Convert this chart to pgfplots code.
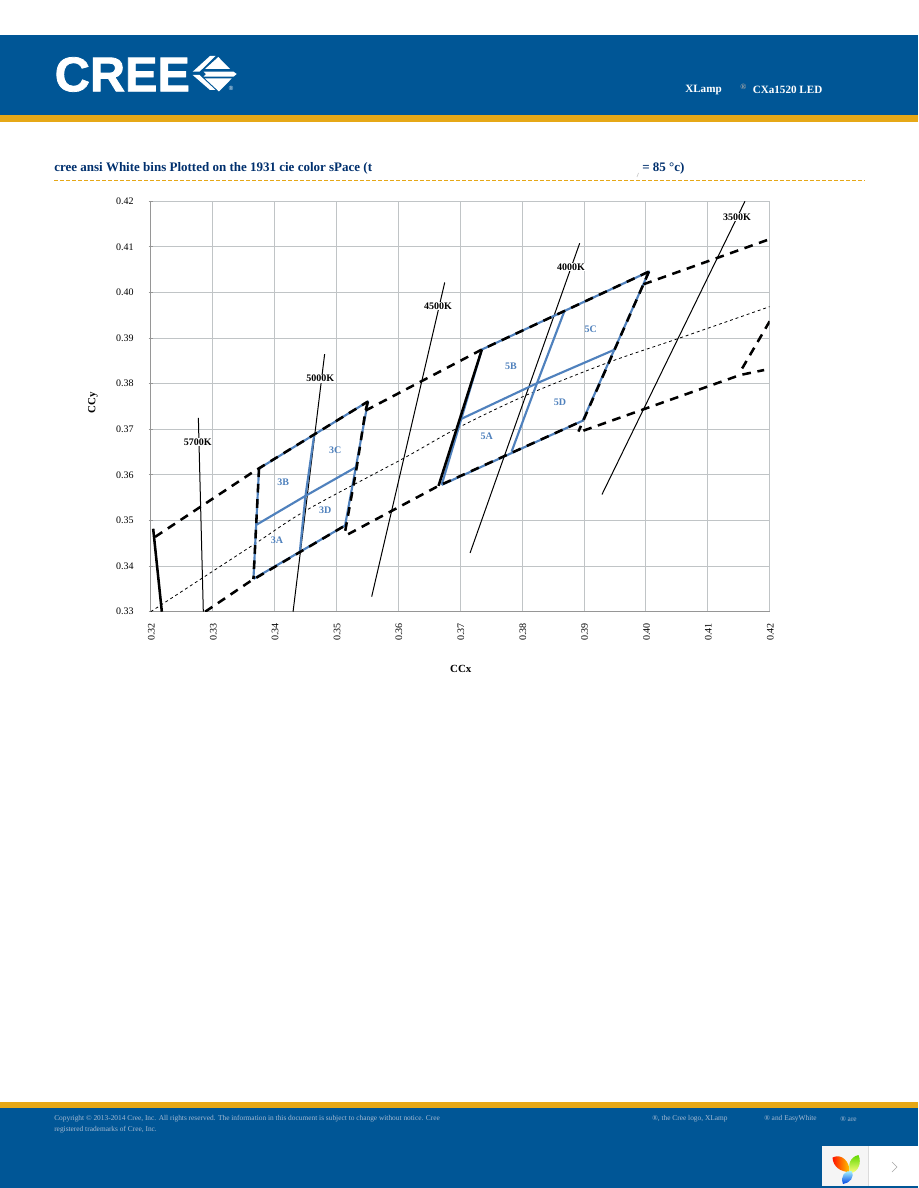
\documentclass[border=0pt]{standalone}
\usepackage{fontspec}
\setmainfont{Liberation Serif}
\newfontfamily\logofont[UprightFont=* Bold,FakeBold=1.6]{Liberation Sans}
\newfontfamily\logosmall{Liberation Sans}
\usepackage{pgfplots}
\pgfplotsset{compat=1.18}
\definecolor{creeblue}{HTML}{005696}
\definecolor{creegold}{HTML}{E6A817}
\definecolor{titleblue}{HTML}{00306E}
\definecolor{binblue}{HTML}{4F81BD}
\definecolor{gridgray}{HTML}{C0C4C6}
\definecolor{axisgray}{HTML}{969696}
\definecolor{foot}{HTML}{A6BAD2}
\newcommand{\fs}[1]{\fontsize{#1}{#1}\selectfont}
\begin{document}
\begin{tikzpicture}
\begin{scope}[x=0.75pt,y=-0.75pt]
\path[use as bounding box] (0,0) rectangle (918,1188);
\fill[white] (0,0) rectangle (918,1188);
% header
\fill[creeblue] (0,35) rectangle (918,115);
\fill[creegold] (0,115) rectangle (918,122);
\node[anchor=west,inner sep=0,white] at (54.5,74.5) {\logofont\fs{36.5}CREE};
\fill[white] (192.7,71.7) -- (210,56) -- (215.5,56) -- (199.5,71.7) -- cycle;
\fill[white] (218.3,57) -- (230,69) -- (205,69) -- cycle;
\fill[white] (203.5,71.7) -- (233.5,71.7) -- (236.7,74) -- (233.5,76.7) -- (203.5,76.7) -- (206,74) -- cycle;
\fill[white] (192.7,75) -- (199.5,75) -- (215.5,90) -- (210,90) -- cycle;
\fill[white] (205,78.5) -- (231.7,78.5) -- (219,91.5) -- cycle;
\node[white,inner sep=0] at (231,88.5) {\logosmall\fs{4.5}®};
\node[anchor=west,inner sep=0,white] at (685,90) {\bfseries\fs{8.35}XLamp};
\node[anchor=west,inner sep=0,gray!70] at (740,87) {\bfseries\fs{6}®};
\node[anchor=west,inner sep=0,white] at (752.5,90) {\bfseries\fs{8.35}CXa1520 LED};
% title
\node[anchor=west,inner sep=0,titleblue] at (54,168) {\bfseries\fs{9.75}cree ansi White bins Plotted on the 1931 cie color sPace (t};
\node[anchor=west,inner sep=0,titleblue] at (642,168) {\bfseries\fs{9.75}= 85 °c)};
\draw[gray!40,line width=0.5pt] (637,177) -- (638.5,173);
\draw[creegold,line width=0.75pt,dash pattern=on 3pt off 1.5pt] (54,180.5) -- (864.5,180.5);
% footer
\fill[creegold] (0,1102) rectangle (918,1108);
\fill[creeblue] (0,1108) rectangle (918,1188);
\node[anchor=west,inner sep=0,foot] at (54,1118.7) {\fs{5.54}Copyright © 2013-2014 Cree, Inc. All rights reserved. The information in this document is subject to change without notice. Cree};
\node[anchor=west,inner sep=0,foot] at (54,1130) {\fs{5.54}registered trademarks of Cree, Inc.};
\node[anchor=west,inner sep=0,foot] at (652,1118.7) {\fs{5.54}®, the Cree logo, XLamp};
\node[anchor=west,inner sep=0,foot] at (764,1118.7) {\fs{5.54}® and EasyWhite};
\node[anchor=west,inner sep=0,foot] at (840,1118.7) {\fs{5.54}® are};
% widget
\fill[white] (822,1146) rectangle (918,1186);
\fill[black!4] (822,1146) rectangle (868,1186);
\draw[black!14,line width=0.6pt] (868,1146) -- (868,1186);
\draw[black!35,line width=0.4pt] (892,1162) -- (897,1167) -- (892,1172);
\shade[left color=red!85!orange,right color=yellow!60!orange] (832.5,1157.5) .. controls (842,1153) and (850,1162) .. (849.5,1172) .. controls (841,1172) and (833,1167) .. (832.5,1157.5) -- cycle;
\shade[top color=green!55!yellow!85!black,bottom color=yellow!50!white] (858.5,1155) .. controls (862,1163) and (858,1172) .. (851,1173) .. controls (847,1165) and (850,1157) .. (858.5,1155) -- cycle;
\shade[bottom color=blue!70!cyan!90!black,top color=cyan!30!white] (843,1184) .. controls (840,1176) and (845,1170) .. (851.5,1171) .. controls (855,1177) and (850,1183) .. (843,1184) -- cycle;
\end{scope}
\begin{axis}[
  at={(113.025pt,-458.775pt)},anchor=south west,
  scale only axis,width=464.25pt,height=307.8pt,
  xmin=0.32,xmax=0.42,ymin=0.33,ymax=0.42,
  axis x line=bottom,axis y line=left,
  axis line style={-,draw=axisgray,line width=0.75pt},
  xtick={0.32,0.33,0.34,0.35,0.36,0.37,0.38,0.39,0.40,0.41,0.42},
  ytick={0.33,0.34,0.35,0.36,0.37,0.38,0.39,0.40,0.41,0.42},
  grid=major,
  major grid style={draw=gridgray,line width=0.75pt},
  major tick length=3pt,
  y tick style={draw=axisgray,line width=0.75pt},
  x tick style={draw=none},
  /pgf/number format/assume math mode=true,
  /pgf/number format/fixed,/pgf/number format/fixed zerofill,/pgf/number format/precision=2,
  tick label style={font=\fs{7.5}},
  x tick label style={rotate=90,anchor=east,xshift=-3.45pt,yshift=-0.5pt},
  y tick label style={xshift=-7.8pt,anchor=east},
  xlabel={CCx},ylabel={CCy},
  xlabel style={at={(axis description cs:0.501,-0.14)},anchor=center,font=\bfseries\fs{8.2}},
  ylabel style={at={(axis description cs:-0.0932,0.5085)},anchor=center,font=\bfseries\fs{8.2}},
  clip=true,
  axis on top=false,
]
% isotherms
\addplot[black,line width=0.75pt] coordinates {(0.3277,0.3725)(0.3285,0.33)};
\addplot[black,line width=0.75pt] coordinates {(0.3481,0.3865)(0.3430,0.33)};
\addplot[black,line width=0.75pt] coordinates {(0.3675,0.4022)(0.3557,0.3333)};
\addplot[black,line width=0.75pt] coordinates {(0.3893,0.4108)(0.3716,0.3429)};
\addplot[black,line width=0.75pt] coordinates {(0.4160,0.42)(0.3929,0.3557)};
% locus
\addplot[black,line width=0.6pt,dash pattern=on 2.2pt off 2.2pt,smooth] coordinates {(0.32,0.33)(0.3365,0.3446)(0.3452,0.3523)(0.3608,0.3636)(0.3696,0.3703)(0.3807,0.3775)(0.3942,0.3848)(0.4050,0.3898)(0.42,0.3969)};
% blue bins
\addplot[binblue,line width=1.6pt,line join=round] coordinates {(0.3366,0.3372)(0.3375,0.3614)(0.3551,0.3761)(0.3514,0.3489)(0.3366,0.3372)};
\addplot[binblue,line width=1.6pt] coordinates {(0.3464,0.3687)(0.3450,0.3554)(0.3441,0.3432)};
\addplot[binblue,line width=1.6pt] coordinates {(0.3370,0.3490)(0.3450,0.3554)(0.3533,0.3618)};
\addplot[binblue,line width=1.6pt,line join=round] coordinates {(0.3670,0.3578)(0.3735,0.3875)(0.4005,0.4046)(0.3898,0.3719)(0.3670,0.3578)};
\addplot[binblue,line width=1.6pt] coordinates {(0.3868,0.3958)(0.3824,0.3801)(0.3783,0.3651)};
\addplot[binblue,line width=1.6pt] coordinates {(0.3702,0.3723)(0.3824,0.3801)(0.3950,0.3875)};
% solid thick edges
\addplot[black,line width=1.9pt] coordinates {(0.3204,0.3482)(0.3218,0.33)};
\addplot[black,line width=1.9pt] coordinates {(0.3665,0.3576)(0.3735,0.3875)};
% dashed black
\tikzset{bd/.style={black,line width=1.9pt,dash pattern=on 6.5pt off 5pt}}
\addplot[bd] coordinates {(0.3207,0.3464)(0.3366,0.3607)(0.3551,0.3761)};
\addplot[bd] coordinates {(0.3547,0.3741)(0.3735,0.3875)(0.4005,0.4046)};
\addplot[bd] coordinates {(0.3996,0.4018)(0.42,0.4117)};
\addplot[bd] coordinates {(0.3288,0.33)(0.3360,0.3366)(0.3514,0.3489)};
\addplot[bd] coordinates {(0.3519,0.3470)(0.3665,0.3576)(0.3898,0.3719)};
\addplot[bd] coordinates {(0.3899,0.3697)(0.4152,0.3819)(0.4191,0.3830)};
\addplot[bd] coordinates {(0.42,0.3937)(0.4151,0.3823)};
\addplot[bd] coordinates {(0.3375,0.3614)(0.3366,0.3372)};
\addplot[bd] coordinates {(0.3551,0.3761)(0.3547,0.3741)(0.3533,0.3618)(0.3514,0.3475)};
\addplot[bd] coordinates {(0.4005,0.4046)(0.3996,0.4018)(0.3891,0.3695)};
% labels
\tikzset{tl/.style={font=\bfseries\fs{7.5},fill=white,inner sep=0.6pt,text=black},bl/.style={font=\bfseries\fs{7.5},inner sep=0,text=binblue}}
\node[tl] at (axis cs:0.3276,0.3672) {5700K};
\node[tl] at (axis cs:0.3474,0.3811) {5000K};
\node[tl] at (axis cs:0.3664,0.3970) {4500K};
\node[tl] at (axis cs:0.3879,0.4056) {4000K};
\node[tl] at (axis cs:0.4147,0.4166) {3500K};
\node[bl] at (axis cs:0.3404,0.3457) {3A};
\node[bl] at (axis cs:0.3414,0.3584) {3B};
\node[bl] at (axis cs:0.3498,0.3655) {3C};
\node[bl] at (axis cs:0.3482,0.3523) {3D};
\node[bl] at (axis cs:0.3743,0.3685) {5A};
\node[bl] at (axis cs:0.3782,0.3839) {5B};
\node[bl] at (axis cs:0.3911,0.3920) {5C};
\node[bl] at (axis cs:0.3861,0.3760) {5D};
\end{axis}
\end{tikzpicture}
\end{document}
